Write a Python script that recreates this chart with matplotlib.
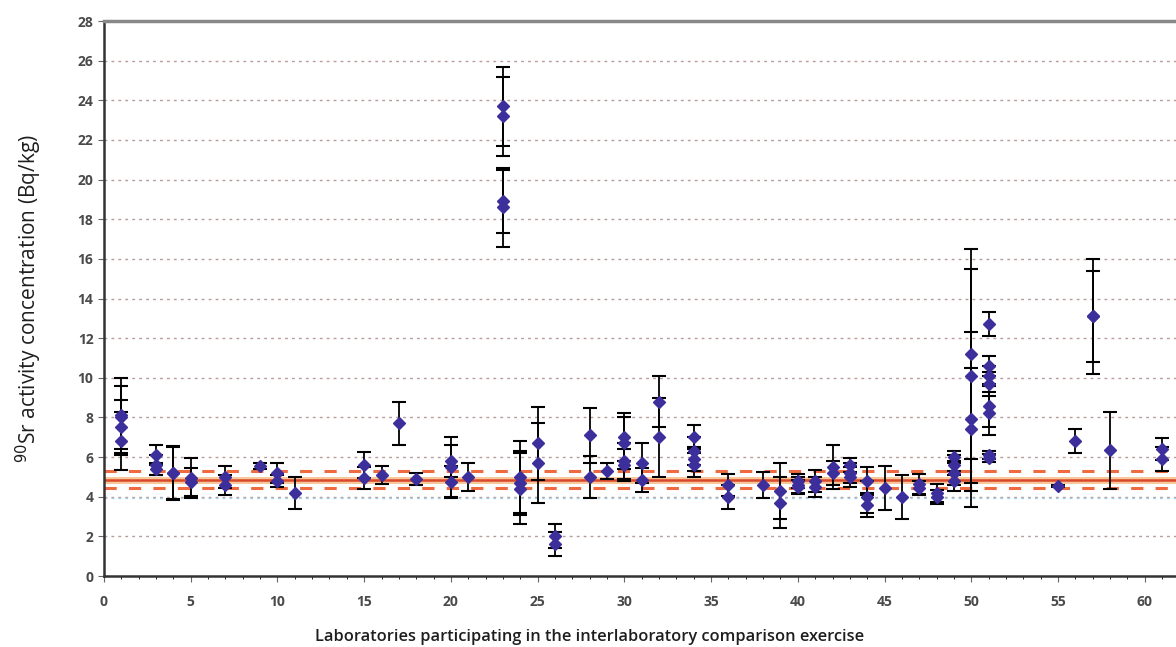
#!/usr/bin/env python3

import matplotlib
matplotlib.use("Agg")
import matplotlib.pyplot as plt
import numpy as np


# laboratory code, reported value and uncertainty (Bq/kg), one entry per result
lab = [1, 1, 1, 1,
       3, 3, 3, 4, 4, 5, 5, 7, 7, 9, 10, 10, 11,
       15, 15, 16, 17, 18, 20, 20, 20, 21,
       23, 23, 23, 23,
       24, 24, 24, 25, 25, 26, 26,
       28, 28, 29, 30, 30, 30, 30, 31, 31, 32, 32,
       34, 34, 34, 34, 36, 36, 38, 39, 39,
       40, 40, 40, 41, 41, 42, 42, 43, 43, 43,
       44, 44, 44, 45, 46, 47, 47, 48, 48,
       49, 49, 49, 49,
       50, 50, 50, 50,
       51, 51, 51, 51, 51, 51, 51, 51,
       55, 56, 57, 57, 58, 61, 61]
value = [8.1, 8.0, 7.5, 6.8,
         6.1, 5.6, 5.4, 5.2, 5.2, 4.95, 4.75, 5.0, 4.6, 5.55, 5.2, 4.8, 4.2,
         5.6, 4.95, 5.1, 7.7, 4.9, 5.8, 5.5, 4.75, 5.0,
         23.7, 23.2, 18.9, 18.6,
         5.0, 4.7, 4.4, 6.7, 5.7, 2.0, 1.6,
         7.1, 5.0, 5.3, 7.0, 6.7, 5.8, 5.6, 5.7, 4.85, 8.8, 7.0,
         7.0, 6.3, 5.9, 5.6, 4.6, 4.0, 4.6, 4.3, 3.7,
         4.8, 4.6, 4.5, 4.8, 4.5, 5.5, 5.2, 5.6, 5.2, 5.0,
         4.8, 4.0, 3.6, 4.45, 4.0, 4.65, 4.45, 4.2, 4.0,
         6.0, 5.6, 5.2, 4.8,
         11.2, 10.1, 7.9, 7.4,
         12.7, 10.6, 10.1, 9.7, 8.6, 8.2, 6.1, 5.95,
         4.55, 6.8, 13.1, 13.1, 6.35, 6.4, 5.9]
uncert = [1.9, 1.6, 1.4, 1.45,
          0.5, 0.5, 0.3, 1.35, 1.3, 1.0, 0.7, 0.55, 0.5, 0.15, 0.5, 0.3, 0.8,
          0.65, 0.55, 0.45, 1.1, 0.3, 0.8, 1.5, 0.8, 0.7,
          2.0, 2.0, 1.6, 2.0,
          1.8, 1.6, 1.8, 1.85, 2.0, 0.6, 0.6,
          1.4, 1.05, 0.4, 1.2, 1.3, 0.9, 0.8, 1.0, 0.6, 1.3, 2.0,
          0.6, 0.7, 0.6, 0.6, 0.55, 0.6, 0.65, 1.4, 1.3,
          0.35, 0.4, 0.35, 0.55, 0.5, 1.1, 0.6, 0.35, 0.5, 0.5,
          0.7, 0.8, 0.6, 1.1, 1.1, 0.5, 0.35, 0.45, 0.35,
          0.3, 0.5, 0.6, 0.5,
          5.3, 5.4, 4.4, 3.1,
          0.6, 0.5, 0.5, 0.6, 1.1, 1.1, 0.2, 0.2,
          0.05, 0.6, 2.9, 2.3, 1.95, 0.55, 0.6]

# assigned value with its uncertainty band
ref_value = 4.85
ref_low, ref_high = 4.44, 5.28
ref_limit = 3.92

y_ticks = np.arange(0, 29, 2)
x_ticks = np.arange(0, 61, 5)


plt.rcParams['font.family'] = ['Open Sans', 'DejaVu Sans']

fig = plt.figure(figsize=(11.76, 6.47), dpi=100)
ax = fig.add_axes([0.0884, 0.1097, 0.9116, 0.8578])

for y in y_ticks[1:]:
    ax.axhline(y, color='#b89a9a', lw=1.0, ls=(0, (2, 3)), zorder=0)

ax.axhline(ref_limit, color='#9fd3ec', lw=1.0, ls=(0, (2, 3)), zorder=1)
ax.axhline(ref_value, color='#f7c79a', lw=5, zorder=1)
ax.axhline(ref_value, color='#d9482b', lw=1.8, zorder=2)
ax.axhline(ref_high, color='#ee6a40', lw=2.2, ls=(0, (4, 4)), zorder=2)
ax.axhline(ref_low, color='#ee6a40', lw=2.2, ls=(0, (4, 4)), zorder=2)

ax.errorbar(lab, value, yerr=uncert, fmt='D', color='#3c2f9c', ms=6.5,
            ecolor='black', elinewidth=1.3, capsize=5, capthick=1.5, zorder=3)

ax.set_xlim(0, 61.8)
ax.set_ylim(0, 28)
ax.set_yticks(y_ticks)
ax.set_xticks(x_ticks)
ax.set_xticks(np.arange(0, 62, 1), minor=True)
ax.tick_params(axis='both', labelsize=10, labelcolor='#4a4a4a', colors='#666666', length=4)
ax.tick_params(axis='x', pad=10)
ax.tick_params(axis='x', which='minor', length=2)
for lbl in ax.get_xticklabels() + ax.get_yticklabels():
    lbl.set_fontweight('bold')

ax.spines['left'].set_color('#333333')
ax.spines['left'].set_linewidth(1.8)
ax.spines['bottom'].set_color('#333333')
ax.spines['bottom'].set_linewidth(1.8)
ax.spines['top'].set_color('#888888')
ax.spines['top'].set_linewidth(2.5)
ax.spines['right'].set_visible(False)

ax.set_xlabel("Laboratories participating in the interlaboratory comparison exercise",
              fontsize=11.8, color='#1e1e1e', fontweight='semibold')
ax.xaxis.set_label_coords(486 / 1072, -0.095)
ax.set_ylabel(r"$^{90}$Sr activity concentration (Bq/kg)", fontsize=15,
              color='#1e1e1e', labelpad=24)

fig.savefig("out.png", dpi=100)
